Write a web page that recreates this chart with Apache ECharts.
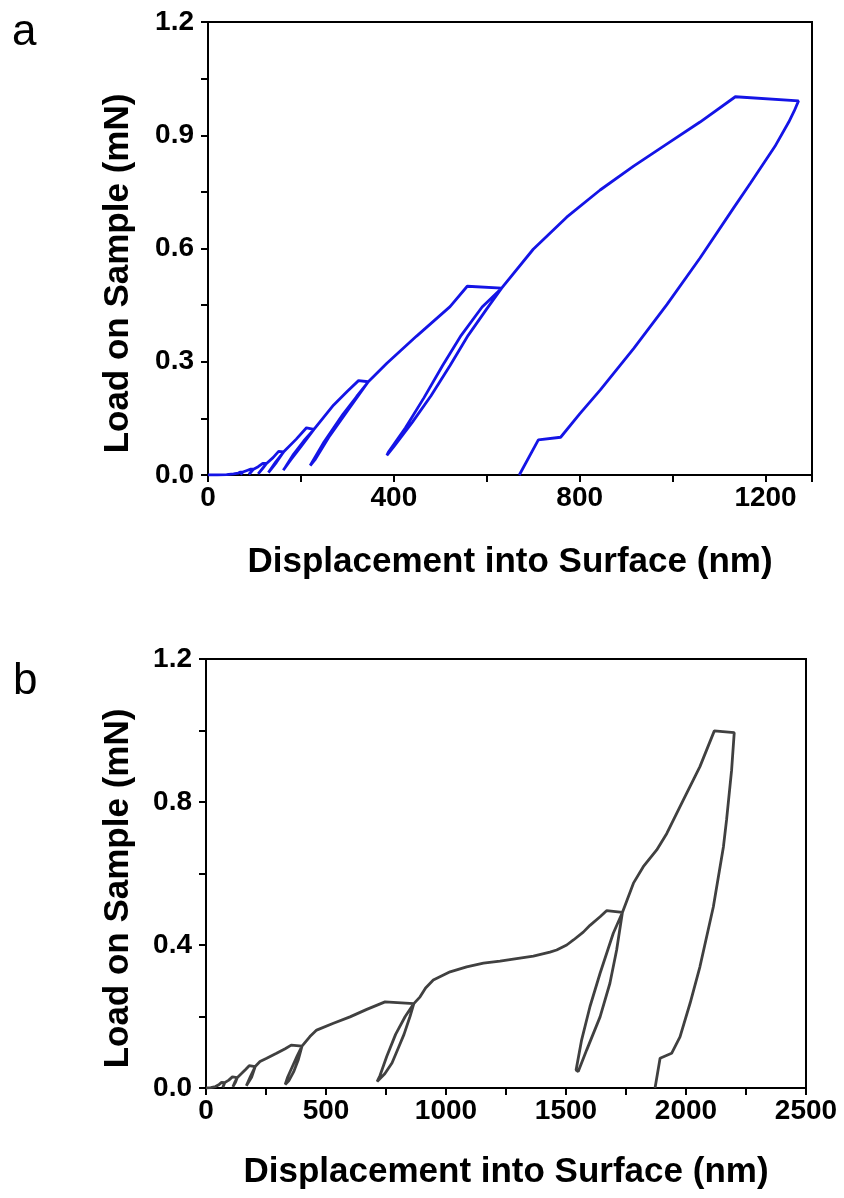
<!DOCTYPE html>
<html>
<head>
<meta charset="utf-8">
<script src="https://cdn.jsdelivr.net/npm/echarts@6/dist/echarts.min.js"></script>
<style>
html,body{margin:0;padding:0;background:#fff;}
#chart{width:844px;height:1198px;}
</style>
</head>
<body>
<div id="chart"></div>
<script>
// ---- Panel a data (displacement nm, load mN) ----
const dispA = [0,20,40,55,65,70, 75, 72,70, 72,75, 84,92, 98, 93,88, 93,98, 108,118, 126, 117,108, 117,126, 140,152, 163, 147,130, 146,163,
  190,212, 228, 200,178,162, 166,184,206,228, 270,300,324, 345, 300,260,230,220, 222,250,290,320,345,
  385,449,521,558, 632, 600,560,521,480,440,400,385,382, 388,425,465,505,545,590,632,
  700,772,844,916,988,1059,1135, 1271, 1262,1250,1220,1167,1131,1059,988,916,844,800,759, 711, 670];
const loadA = [0,0,0.001,0.003,0.005,0.0078, 0.0078, 0.004,0.0008, 0.004,0.0078, 0.012,0.0156, 0.0155, 0.008,0.0016, 0.009,0.0155, 0.022,0.031, 0.0305, 0.016,0.003, 0.017,0.0305, 0.046,0.0625, 0.0615, 0.033,0.0063, 0.035,0.0615,
  0.095,0.125, 0.121, 0.075,0.04,0.0125, 0.02,0.055,0.09,0.121, 0.185,0.222,0.25, 0.247, 0.17,0.1,0.04,0.025, 0.03,0.088,0.16,0.208,0.247,
  0.296,0.368,0.446,0.50, 0.495, 0.44,0.37,0.29,0.21,0.14,0.075,0.052,0.049, 0.06,0.125,0.205,0.29,0.37,0.445,0.495,
  0.598,0.683,0.755,0.818,0.877,0.935,1.002, 0.991, 0.965,0.935,0.87,0.772,0.707,0.575,0.452,0.335,0.225,0.162,0.1, 0.093, 0];

// ---- Panel b data (displacement nm, load mN) ----
const dispB = [0,20,40,55,65, 78, 74,70, 74,78, 95,110, 130, 122,112, 121,130, 150,165,180, 205, 190,168, 185,205,
  225,253,294,330,355, 400, 385,365,345,330, 340,360,380,400,
  433,461,531,600,670,746, 866, 850,825,800,775,745,713, 725,753,790,830,866,
  892,915,947,1017,1086,1156,1225,1294,1364,1433,1461,1503,1531,1572,1600,1642,1669, 1735,
  1711,1683,1642,1586,1551,1544, 1542,1565,1600,1642,1697,1735,
  1781,1822,1878,1920,1989,2058,2118, 2201, 2190,2169,2156,2114,2058,2017,1975,1940, 1892, 1871];
const loadB = [0,0.001,0.004,0.01,0.0156, 0.015, 0.008,0.0016, 0.009,0.015, 0.022,0.031, 0.029, 0.015,0.003, 0.017,0.029, 0.042,0.052,0.0625, 0.06, 0.03,0.006, 0.032,0.06,
  0.074,0.083,0.097,0.11,0.12, 0.117, 0.08,0.045,0.02,0.01, 0.03,0.06,0.09,0.117,
  0.144,0.162,0.181,0.199,0.22,0.241, 0.236, 0.2,0.15,0.11,0.07,0.04,0.018, 0.035,0.088,0.15,0.2,0.236,
  0.255,0.28,0.302,0.325,0.339,0.349,0.355,0.362,0.369,0.38,0.386,0.400,0.414,0.436,0.455,0.479,0.496, 0.491,
  0.386,0.293,0.199,0.106,0.046,0.043, 0.050,0.134,0.228,0.321,0.433,0.491,
  0.573,0.619,0.666,0.712,0.806,0.899,0.999, 0.994, 0.889,0.75,0.675,0.507,0.339,0.237,0.143,0.097, 0.083, 0];

// ---- Tick labels ----
const xTicksA = [0, 400, 800, 1200];
const yTicksA = [0.0, 0.3, 0.6, 0.9, 1.2];
const xTicksB = [0, 500, 1000, 1500, 2000, 2500];
const yTicksB = [0.0, 0.4, 0.8, 1.2];

const FONT = 'Liberation Sans, Arial, Helvetica, sans-serif';
const dataA = dispA.map((d, i) => [d, loadA[i]]);
const dataB = dispB.map((d, i) => [d, loadB[i]]);

function inList(list, v) { return list.some(t => Math.abs(t - v) < 1e-6); }

function makeX(grid, max, interval, ticks, gap) {
  return {
    type: 'value', gridIndex: grid, min: 0, max: max, interval: interval,
    name: 'Displacement into Surface (nm)', nameLocation: 'middle', nameGap: gap,
    nameTextStyle: { fontFamily: FONT, fontWeight: 'bold', fontSize: 35, color: '#000' },
    axisLine: { show: true, onZero: false, lineStyle: { color: '#000', width: 2 } },
    axisTick: { show: true, length: 7, lineStyle: { color: '#000', width: 2 } },
    axisLabel: { margin: 9, fontFamily: FONT, fontWeight: 'bold', fontSize: 28, color: '#000',
      formatter: v => inList(ticks, v) ? String(v) : '' },
    splitLine: { show: false }
  };
}
function makeY(grid, interval, ticks, gap, shift) {
  return {
    type: 'value', gridIndex: grid, min: 0, max: 1.2, interval: interval,
    name: 'Load on Sample (mN)', nameLocation: 'middle', nameGap: gap,
    nameTextStyle: { fontFamily: FONT, fontWeight: 'bold', fontSize: 35, color: '#000', padding: [0, shift * 2, 0, 0] },
    axisLine: { show: true, onZero: false, lineStyle: { color: '#000', width: 2 } },
    axisTick: { show: true, length: 7, lineStyle: { color: '#000', width: 2 } },
    axisLabel: { margin: 14, fontFamily: FONT, fontWeight: 'bold', fontSize: 28, color: '#000',
      formatter: v => inList(ticks, v) ? v.toFixed(1) : '' },
    splitLine: { show: false }
  };
}

const chart = echarts.init(document.getElementById('chart'), null, { renderer: 'canvas' });
chart.setOption({
  animation: false,
  backgroundColor: '#fff',
  grid: [
    { left: 208, top: 22, width: 604, height: 453, show: true, borderColor: '#000', borderWidth: 2, backgroundColor: 'transparent' },
    { left: 206, top: 659, width: 600, height: 429, show: true, borderColor: '#000', borderWidth: 2, backgroundColor: 'transparent' }
  ],
  xAxis: [makeX(0, 1300, 200, xTicksA, 70), makeX(1, 2500, 250, xTicksB, 67)],
  yAxis: [makeY(0, 0.15, yTicksA, 72, 25), makeY(1, 0.2, yTicksB, 70, 15)],
  graphic: [
    { type: 'text', left: 12, top: 11, style: { text: 'a', font: '44px ' + FONT, fill: '#000' } },
    { type: 'text', left: 13, top: 660, style: { text: 'b', font: '44px ' + FONT, fill: '#000' } }
  ],
  series: [
    { type: 'line', xAxisIndex: 0, yAxisIndex: 0, data: dataA, showSymbol: false, smooth: false,
      lineStyle: { color: '#1414e6', width: 2.8 }, itemStyle: { color: '#1414e6' } },
    { type: 'line', xAxisIndex: 1, yAxisIndex: 1, data: dataB, showSymbol: false, smooth: false,
      lineStyle: { color: '#404040', width: 2.8 }, itemStyle: { color: '#404040' } }
  ]
});
</script>
</body>
</html>
